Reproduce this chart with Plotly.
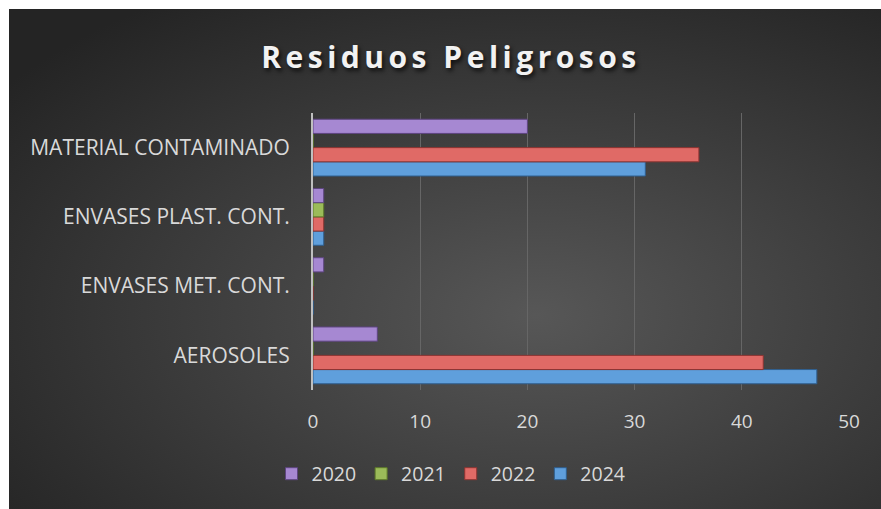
import plotly.graph_objects as go
import urllib.parse

categories = ["AEROSOLES", "ENVASES MET. CONT.", "ENVASES PLAST. CONT.", "MATERIAL CONTAMINADO"]
s2020 = [6, 1, 1, 20]
s2021 = [0, 0, 1, 0]
s2022 = [42, 0, 1, 36]
s2024 = [47, 0, 1, 31]
x_ticks = [0, 10, 20, 30, 40, 50]

W, H = 881, 509
BX, BY = 9, 9  # white border at left/top
L, R, T, B = 313, W - 849, 113, H - 390
pw, ph = W - L - R, H - T - B

svg = (
    "<svg xmlns='http://www.w3.org/2000/svg' width='872' height='500' viewBox='0 0 872 500' preserveAspectRatio='none'>"
    "<defs><radialGradient id='g' cx='0.57' cy='0.58' r='0.72'>"
    "<stop offset='0' stop-color='#575757'/><stop offset='1' stop-color='#242424'/>"
    "</radialGradient></defs><rect width='872' height='500' fill='url(#g)'/></svg>"
)
src = "data:image/svg+xml;charset=utf-8," + urllib.parse.quote(svg)

fig = go.Figure()
series = [("2024", s2024, "#5f9fdc", "#2f5f8f"),
          ("2022", s2022, "#e06a66", "#8e3431"),
          ("2021", s2021, "#9bbb59", "#5d7a2a"),
          ("2020", s2020, "#a688d2", "#5e4580")]
for name, vals, col, lcol in series:
    fig.add_trace(go.Bar(y=categories, x=vals, name=name, orientation="h",
                         marker=dict(color=col, line=dict(color=lcol, width=1))))

fig.update_layout(
    width=W, height=H,
    margin=dict(l=L, r=R, t=T, b=B, pad=0),
    paper_bgcolor="white", plot_bgcolor="rgba(0,0,0,0)",
    barmode="group", bargap=0.18, bargroupgap=0,
    font=dict(family="Open Sans", color="#d9d9d9", size=18),
    title=dict(text="<span style='letter-spacing:4.5px'><b>Residuos Peligrosos</b></span>",
               x=451 / W, xref="container", xanchor="center",
               y=1 - 57 / H, yref="container", yanchor="middle",
               font=dict(family="Open Sans", size=30, color="#f2f2f2",
                         shadow="2px 3px 4px rgba(0,0,0,0.7)")),
    xaxis=dict(range=[0, 50], tickvals=x_ticks, showgrid=True, gridcolor="#666666", gridwidth=1,
               zeroline=False, showline=False, ticklabelstandoff=18,
               tickfont=dict(size=19, color="#d9d9d9")),
    yaxis=dict(showline=True, linecolor="#bfbfbf", linewidth=2, showgrid=False,
               ticklabelstandoff=17, tickfont=dict(size=21, color="#d9d9d9")),
    legend=dict(orientation="h", traceorder="reversed", x=(451 - L) / pw, xanchor="center",
                y=(H - B - 474) / ph, yanchor="middle", font=dict(size=19.5, color="#d9d9d9"),
                bgcolor="rgba(0,0,0,0)"),
    images=[dict(source=src, xref="paper", yref="paper", x=(BX - L) / pw, y=(H - B - BY) / ph,
                 sizex=(W - BX) / pw + 0.1, sizey=(H - BY) / ph + 0.1, sizing="stretch",
                 xanchor="left", yanchor="top", layer="below")],
)
fig.write_html("out.html", config={"displayModeBar": False},
               post_script="document.body.style.margin='0';document.body.style.overflow='hidden';"
                           "document.body.style.background='#2a2a2a';"
                           "document.documentElement.style.background='#2a2a2a';")
